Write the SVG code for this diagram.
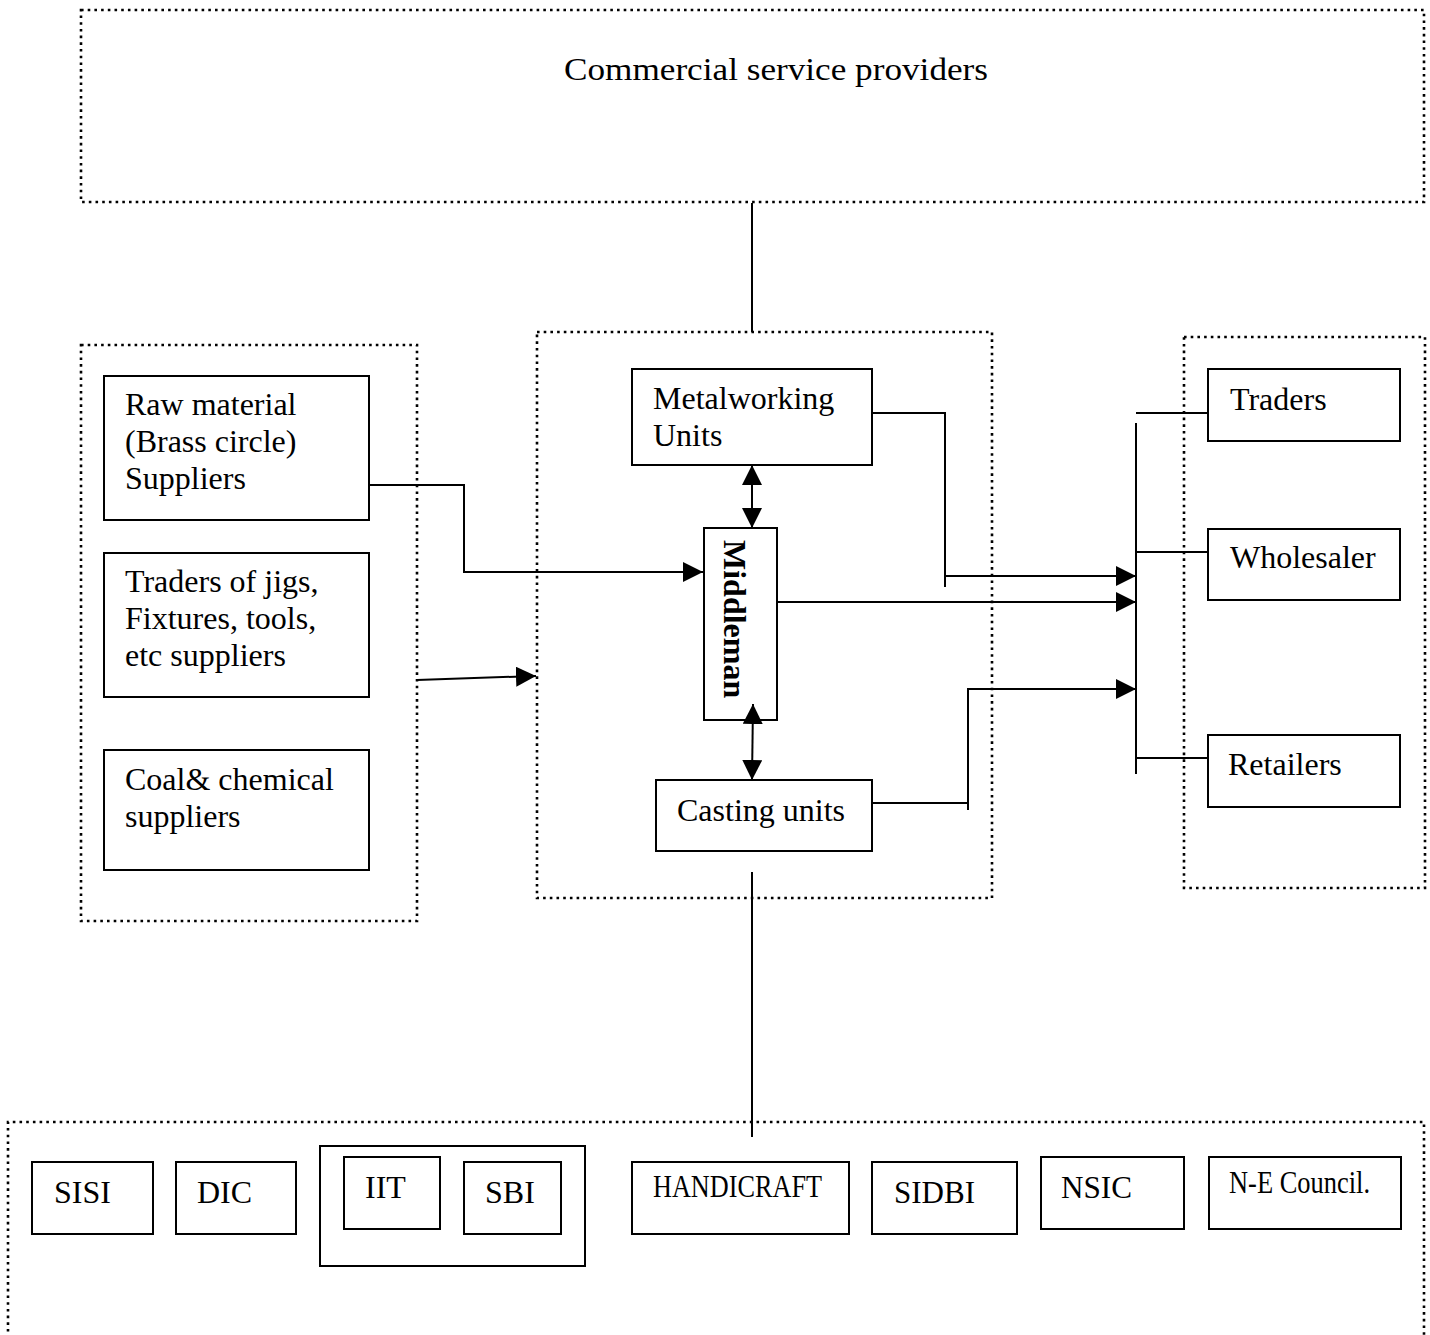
<svg xmlns="http://www.w3.org/2000/svg" width="1430" height="1335" viewBox="0 0 1430 1335">
<style>
text{font-family:"Liberation Serif","Times New Roman",serif;font-size:32px;fill:#000}
.box{fill:#fff;stroke:#000;stroke-width:2}
.dot{fill:none;stroke:#000;stroke-width:2.6;stroke-dasharray:2.6 4.1}
.ln{fill:none;stroke:#000;stroke-width:2}
.mid{font-weight:bold}
</style>
<defs>
<marker id="ah" markerUnits="userSpaceOnUse" markerWidth="20" markerHeight="20" refX="20" refY="10" orient="auto-start-reverse">
<path d="M0,0 L20,10 L0,20 Z" fill="#000"/>
</marker>
</defs>
<rect width="1430" height="1335" fill="#fff"/>

<g id="commercial">
<rect class="dot" x="81" y="10" width="1343" height="192"/>
<text x="564" y="80" textLength="424" lengthAdjust="spacingAndGlyphs">Commercial service providers</text>
</g>

<g id="suppliers-group">
<rect class="dot" x="81" y="345" width="336" height="576"/>
</g>
<g id="cluster-group">
<rect class="dot" x="537" y="332" width="455" height="566"/>
</g>
<g id="market-group">
<rect class="dot" x="1184" y="337" width="241" height="551"/>
</g>
<g id="support-group">
<path class="dot" d="M8,1345 V1122 H1424 V1345"/>
</g>

<g id="raw-material">
<rect class="box" x="104" y="376" width="265" height="144"/>
<text x="125" y="415">Raw material</text>
<text x="125" y="452">(Brass circle)</text>
<text x="125" y="489">Suppliers</text>
</g>
<g id="jigs-traders">
<rect class="box" x="104" y="553" width="265" height="144"/>
<text x="125" y="592">Traders of jigs,</text>
<text x="125" y="629">Fixtures, tools,</text>
<text x="125" y="666">etc suppliers</text>
</g>
<g id="coal-chemical">
<rect class="box" x="104" y="750" width="265" height="120"/>
<text x="125" y="790">Coal&amp; chemical</text>
<text x="125" y="827">suppliers</text>
</g>

<g id="metalworking">
<rect class="box" x="632" y="369" width="240" height="96"/>
<text x="653" y="409">Metalworking</text>
<text x="653" y="446">Units</text>
</g>
<g id="middleman">
<rect class="box" x="704" y="528" width="73" height="192"/>
<text class="mid" transform="translate(724,540) rotate(90)">Middleman</text>
</g>
<g id="casting">
<rect class="box" x="656" y="780" width="216" height="71"/>
<text x="677" y="821">Casting units</text>
</g>

<g id="traders">
<rect class="box" x="1208" y="369" width="192" height="72"/>
<text x="1230" y="410">Traders</text>
</g>
<g id="wholesaler">
<rect class="box" x="1208" y="529" width="192" height="71"/>
<text x="1230" y="568">Wholesaler</text>
</g>
<g id="retailers">
<rect class="box" x="1208" y="735" width="192" height="72"/>
<text x="1228" y="775">Retailers</text>
</g>

<g id="sisi">
<rect class="box" x="32" y="1162" width="121" height="72"/>
<text x="54" y="1203">SISI</text>
</g>
<g id="dic">
<rect class="box" x="176" y="1162" width="120" height="72"/>
<text x="197" y="1203">DIC</text>
</g>
<g id="iit-sbi">
<rect class="box" x="320" y="1146" width="265" height="120"/>
</g>
<g id="iit">
<rect class="box" x="344" y="1157" width="96" height="72"/>
<text x="365" y="1198">IIT</text>
</g>
<g id="sbi">
<rect class="box" x="464" y="1162" width="97" height="72"/>
<text x="485" y="1203">SBI</text>
</g>
<g id="handicraft">
<rect class="box" x="632" y="1162" width="217" height="72"/>
<text x="653" y="1197" font-size="27" textLength="169" lengthAdjust="spacingAndGlyphs">HANDICRAFT</text>
</g>
<g id="sidbi">
<rect class="box" x="872" y="1162" width="145" height="72"/>
<text x="894" y="1203" textLength="81" lengthAdjust="spacingAndGlyphs">SIDBI</text>
</g>
<g id="nsic">
<rect class="box" x="1041" y="1157" width="143" height="72"/>
<text x="1061" y="1198" textLength="71" lengthAdjust="spacingAndGlyphs">NSIC</text>
</g>
<g id="ne-council">
<rect class="box" x="1209" y="1157" width="192" height="72"/>
<text x="1229" y="1193" font-size="26" textLength="141" lengthAdjust="spacingAndGlyphs">N-E Council.</text>
</g>

<g id="connectors">
<path class="ln" d="M752,203 V332"/>
<path class="ln" d="M752,872 V1137"/>
<path class="ln" d="M369,485 H464 V572 H703" marker-end="url(#ah)"/>
<path class="ln" d="M417,680 L536,676" marker-end="url(#ah)"/>
<path class="ln" d="M752,465 V528" marker-start="url(#ah)" marker-end="url(#ah)"/>
<path class="ln" d="M753,704 L752,780" marker-start="url(#ah)" marker-end="url(#ah)"/>
<path class="ln" d="M872,413 H945 V587"/>
<path class="ln" d="M945,576 H1136" marker-end="url(#ah)"/>
<path class="ln" d="M777,602 H1136" marker-end="url(#ah)"/>
<path class="ln" d="M872,803 H968"/>
<path class="ln" d="M968,810 V689 H1136" marker-end="url(#ah)"/>
<path class="ln" d="M1136,423 V774"/>
<path class="ln" d="M1136,413 H1208"/>
<path class="ln" d="M1136,552 H1208"/>
<path class="ln" d="M1136,758 H1208"/>
</g>
</svg>
